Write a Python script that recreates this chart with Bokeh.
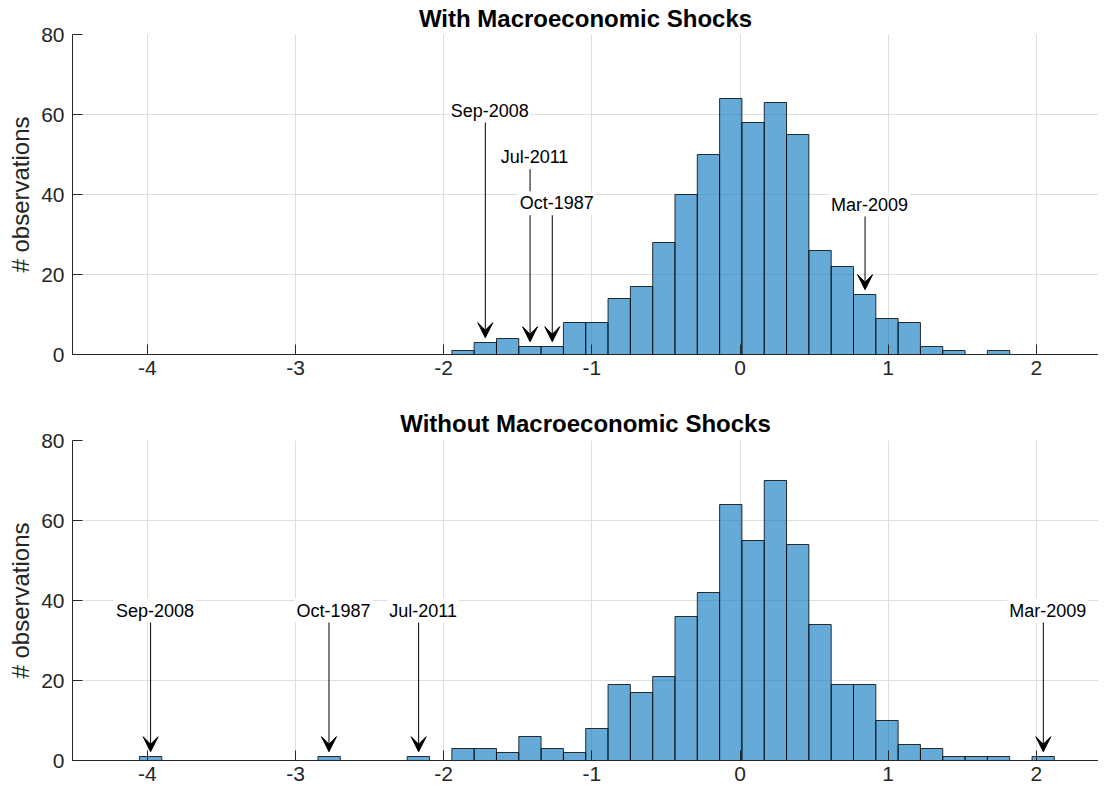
from bokeh.plotting import figure
from bokeh.layouts import column
from bokeh.models import Arrow, VeeHead, Label, Range1d, FixedTicker
from bokeh.embed import file_html
from bokeh.resources import INLINE
import numpy as np

# ---- data ----
bin_start = -4.505
bin_width = 0.1506
counts_with = [0, 0, 0, 0, 0, 0, 0, 0, 0, 0, 0, 0, 0, 0, 0, 0, 0,
               1, 3, 4, 2, 2, 8, 8, 14, 17, 28, 40, 50, 64, 58, 63, 55, 26, 22, 15, 9, 8, 2, 1, 0, 1,
               0, 0, 0, 0]
counts_without = [0, 0, 0, 1, 0, 0, 0, 0, 0, 0, 0, 1, 0, 0, 0, 1, 0,
                  3, 3, 2, 6, 3, 2, 8, 19, 17, 21, 36, 42, 64, 55, 70, 54, 34, 19, 19, 10, 4, 3, 1, 1, 1, 0, 1,
                  0, 0]

events_with = ["Sep-2008", "Jul-2011", "Oct-1987", "Mar-2009"]
x_with = [-1.719, -1.417, -1.267, 0.844]
label_y_with = [61.0, 49.3, 37.8, 37.5]

events_without = ["Sep-2008", "Oct-1987", "Jul-2011", "Mar-2009"]
x_without = [-3.978, -2.774, -2.169, 2.047]
label_y_without = [37.5, 37.5, 37.5, 37.5]

x_ticks = [-4, -3, -2, -1, 0, 1, 2]
y_ticks = [0, 20, 40, 60, 80]

FONT = "Liberation Sans"
DARK = "#262626"
x_start = bin_start
x_end = bin_start + 1026 / 148.17


def make_fig(title, counts, events, ex, ly, top_border, bottom_border, standoff):
    p = figure(frame_width=1026, frame_height=320,
               x_range=Range1d(x_start, x_end), y_range=Range1d(0, 80),
               output_backend="svg", toolbar_location=None,
               min_border_left=72, min_border_right=0,
               min_border_top=top_border, min_border_bottom=bottom_border)
    p.outline_line_color = None
    p.background_fill_color = "white"
    p.title.text = title
    p.title.align = "center"
    p.title.text_font = FONT
    p.title.text_font_size = "24px"
    p.title.text_font_style = "bold"
    p.title.text_color = "black"
    p.title.standoff = standoff

    c = np.array(counts, dtype=float)
    left = bin_start + bin_width * np.arange(len(c))
    right = left + bin_width
    p.quad(left=left, right=right, bottom=0, top=c,
           fill_color="#0072BD", fill_alpha=0.6,
           line_color="black", line_width=0.8)

    for ax in (p.xaxis, p.yaxis):
        ax.axis_line_color = DARK
        ax.major_tick_line_color = DARK
        ax.major_tick_in = 10
        ax.major_tick_out = 0
        ax.minor_tick_line_color = None
        ax.major_label_text_font = FONT
        ax.major_label_text_font_size = "21px"
        ax.major_label_text_color = DARK
    p.xaxis.ticker = FixedTicker(ticks=x_ticks)
    p.yaxis.ticker = FixedTicker(ticks=y_ticks)
    p.xaxis.major_label_overrides = {t: str(t) for t in x_ticks}
    p.xaxis.major_label_standoff = 6
    p.yaxis.major_label_standoff = 8
    p.yaxis.axis_label = "# observations"
    p.yaxis.axis_label_text_font = FONT
    p.yaxis.axis_label_text_font_size = "24px"
    p.yaxis.axis_label_text_font_style = "normal"
    p.yaxis.axis_label_text_color = DARK
    p.yaxis.axis_label_standoff = 4

    p.xgrid.ticker = FixedTicker(ticks=x_ticks)
    p.ygrid.ticker = FixedTicker(ticks=y_ticks)
    p.grid.grid_line_color = "#dedede"
    p.grid.grid_line_width = 1

    # arrows from label to just above the bar top
    for xv, yv in zip(ex, ly):
        k = int(np.floor((xv - bin_start) / bin_width))
        tip = c[k] + 1.2
        p.add_layout(Arrow(end=VeeHead(size=15, fill_color="black", line_color="black"),
                           x_start=xv, y_start=yv, x_end=xv, y_end=tip,
                           line_color="black", line_width=1))
    for name, xv, yv in zip(events, ex, ly):
        p.add_layout(Label(x=xv + 0.03, y=yv, text=name, text_align="center",
                           text_baseline="middle", text_font=FONT,
                           text_font_size="18px", text_color="black",
                           background_fill_color="white", padding=2))
    return p


p1 = make_fig("With Macroeconomic Shocks", counts_with, events_with, x_with, label_y_with, 34, 46, 5)
p2 = make_fig("Without Macroeconomic Shocks", counts_without, events_without, x_without, label_y_without, 40, 21, 7)

layout = column(p1, p2, spacing=0)
open("out.html", "w").write(file_html(layout, INLINE))
